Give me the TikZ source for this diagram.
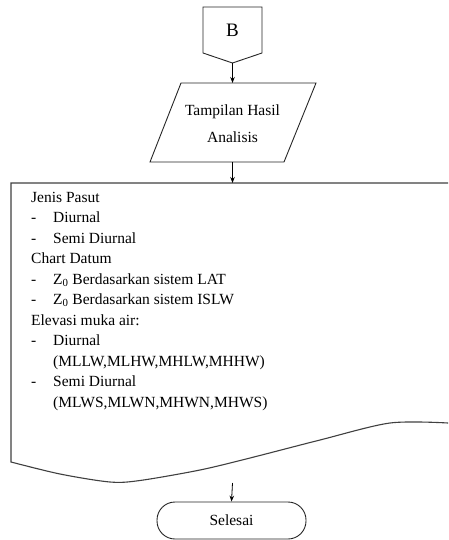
\documentclass[tikz,border=0pt]{standalone}
\usepackage{fontspec}
\setmainfont{Liberation Serif}
\usetikzlibrary{arrows.meta}
\tikzset{
  shapeline/.style={draw=black!85, line width=0.9pt, fill=white},
  docline/.style={draw=black!75, line width=1.1pt},
  conn/.style={draw=black, line width=0.8pt, -{Stealth[length=6pt,width=4.5pt]}},
  txt/.style={font=\rmfamily\fontsize{15.5}{20}\selectfont, inner sep=0pt, anchor=base west},
  label/.style={font=\rmfamily\fontsize{15.5}{27}\selectfont, inner sep=0pt, align=center},
}
\begin{document}
\begin{tikzpicture}[x=1pt,y=-1pt]
\useasboundingbox (0,0) rectangle (448,540);
\clip (0,0) rectangle (448,540);
% off-page connector B
\draw[shapeline] (203,7) -- (262,7) -- (262,53) -- (232.5,63) -- (203,53) -- cycle;
\node[font=\rmfamily\fontsize{19}{22}\selectfont, inner sep=0pt] (B) at (232.5,30) {B};
\coordinate (Bbot) at (232.5,63);
% parallelogram
\draw[shapeline] (181,83) -- (316,83) -- (284,162) -- (150,162) -- cycle;
\node[label] (P) at (232.5,124) {Tampilan Hasil\\Analisis};
\coordinate (Ptop) at (232.5,83);
\coordinate (Pbot) at (232.5,162);
% document shape
\draw[docline, fill=white] (11,183) -- (470,183) -- (470,423)
  -- plot[smooth, tension=0.5] coordinates {(448,423) (390,423) (320,440) (250,458) (200,470) (140,480.5) (110,482) (60,474) (11,462)}
  -- cycle;
\coordinate (Dtop) at (232.5,183);
\coordinate (Dbot) at (232.5,483);
\node[txt] (t1) at (31,202) {Jenis Pasut};
\node[txt] (d2) at (31,222.5) {-};
\node[txt] (t2) at (53,222.5) {Diurnal};
\node[txt] (d3) at (31,243) {-};
\node[txt] (t3) at (53,243) {Semi Diurnal};
\node[txt] (t4) at (31,263.5) {Chart Datum};
\node[txt] (d5) at (31,284) {-};
\node[txt] (t5) at (53,284) {Z\textsubscript{0} Berdasarkan sistem LAT};
\node[txt] (d6) at (31,304.5) {-};
\node[txt] (t6) at (53,304.5) {Z\textsubscript{0} Berdasarkan sistem ISLW};
\node[txt] (t7) at (31,325) {Elevasi muka air:};
\node[txt] (d8) at (31,345.5) {-};
\node[txt] (t8) at (53,345.5) {Diurnal};
\node[txt] (t9) at (53,366) {(MLLW,MLHW,MHLW,MHHW)};
\node[txt] (d10) at (31,386.5) {-};
\node[txt] (t10) at (53,386.5) {Semi Diurnal};
\node[txt] (t11) at (53,407) {(MLWS,MLWN,MHWN,MHWS)};
% terminal
\node[shapeline, rounded corners=18pt, minimum width=149pt, minimum height=37pt,
      font=\rmfamily\fontsize{15.5}{20}\selectfont, inner sep=0pt] (sel) at (231.5,520.5) {Selesai};
% connectors
\draw[conn] (Bbot) -- (Ptop);
\draw[conn] (Pbot) -- (Dtop);
\draw[conn] (Dbot) -- (sel.north);
\end{tikzpicture}
\end{document}
